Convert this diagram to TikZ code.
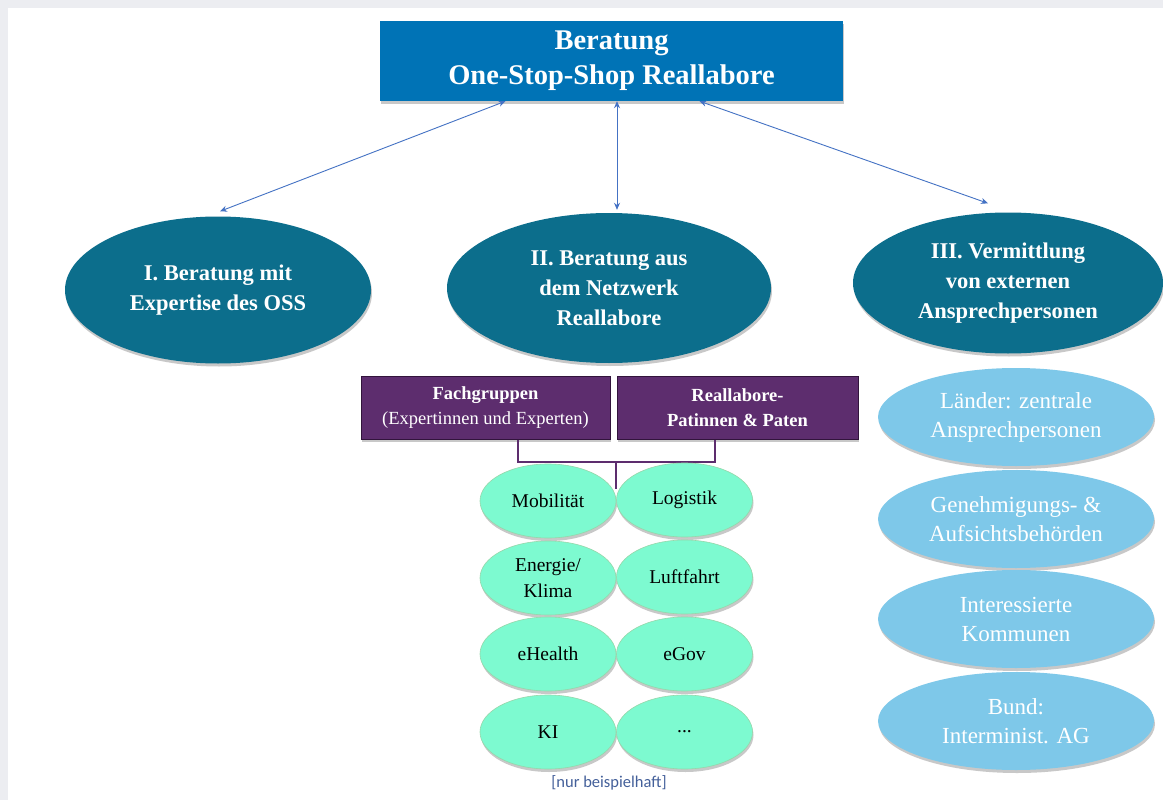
\documentclass[tikz,border=0pt]{standalone}
\usepackage{fontspec}
\setmainfont{Liberation Serif}
\setsansfont{Carlito}
\usetikzlibrary{shapes.geometric,arrows.meta,shadows}
\definecolor{randgrau}{RGB}{236,237,241}
\definecolor{ossblau}{RGB}{0,115,182}
\definecolor{petrol}{RGB}{12,110,140}
\definecolor{lila}{RGB}{93,45,110}
\definecolor{lilarand}{RGB}{50,20,60}
\definecolor{mint}{RGB}{125,250,208}
\definecolor{mintrand}{RGB}{150,215,170}
\definecolor{himmel}{RGB}{126,200,233}
\definecolor{pfeilblau}{RGB}{68,114,196}
\definecolor{hinweisblau}{RGB}{68,96,154}

\begin{document}
\begin{tikzpicture}[x=1pt,y=-1pt,
    schatten/.style={drop shadow={shadow xshift=1pt,shadow yshift=-3pt,opacity=0.3,fill=black!70}},
    kopf/.style={rectangle,fill=ossblau,text=white,minimum width=463,minimum height=80,
        align=center,font=\bfseries\fontsize{28.5}{35}\selectfont,schatten},
    saeule/.style={ellipse,fill=petrol,text=white,inner sep=0pt,align=center,
        font=\bfseries\fontsize{22.5}{30}\selectfont,schatten},
    gruppe/.style={rectangle,fill=lila,draw=lilarand,line width=1pt,text=white,minimum height=63,
        inner sep=0pt,align=center,font=\fontsize{18.5}{25}\selectfont,schatten},
    thema/.style={ellipse,fill=mint,draw=mintrand,line width=0.6pt,minimum width=136,minimum height=74,
        inner sep=0pt,align=center,font=\fontsize{19.5}{26}\selectfont,schatten},
    kontakt/.style={ellipse,fill=himmel,text=white,minimum width=276,minimum height=98,
        inner sep=0pt,align=center,font=\fontsize{23}{29}\selectfont,schatten},
    pfeil/.style={draw=pfeilblau,line width=0.9pt,
        {Stealth[length=7pt,width=6pt]}-{Stealth[length=7pt,width=6pt]}},
    klammer/.style={draw=lila,line width=2.5pt}
  ]
  % Rahmen
  \useasboundingbox (0,0) rectangle (1163,800);
  \fill[randgrau] (0,0) rectangle (1163,800);
  \fill[white] (8,8) rectangle (1163,800);

  % Kopf
  \node[kopf] (oss) at (611.5,61) {Beratung\\One-Stop-Shop Reallabore};

  % drei Saeulen
  \node[saeule,minimum width=306,minimum height=147] (expertise) at (218,290) {I. Beratung mit\\Expertise des OSS};
  \node[saeule,minimum width=324,minimum height=150] (netzwerk) at (609,288) {II. Beratung aus\\dem Netzwerk\\Reallabore};
  \node[saeule,minimum width=310,minimum height=141] (vermittlung) at (1008,283) {III. Vermittlung\\von externen\\Ansprechpersonen};

  \draw[pfeil] ([xshift=-106pt]oss.south) -- ([xshift=2pt,yshift=5pt]expertise.north);
  \draw[pfeil] ([xshift=5.5pt]oss.south) -- ([xshift=5.5pt,yshift=3pt]oss.south |- netzwerk.north);
  \draw[pfeil] ([xshift=88pt]oss.south) -- ([xshift=-20pt,yshift=9pt]vermittlung.north);

  % Netzwerk
  \node[gruppe,minimum width=249] (fach) at (485.5,407.5) {\textbf{Fachgruppen}\\(Expertinnen und Experten)};
  \node[gruppe,minimum width=241,font=\bfseries\fontsize{18.5}{25}\selectfont] (paten) at (737.5,407.5) {Reallabore-\\Patinnen \& Paten};

  \coordinate (mitte) at (616,462);
  \coordinate (fuss) at (616,489);
  \draw[klammer] ([xshift=32.5pt]fach.south) |- (mitte) -| ([xshift=-22.5pt]paten.south);
  \draw[klammer] (mitte) -- (fuss);

  \node[thema] (mobil) at (548,501) {Mobilität};
  \node[thema] (logistik) at (684.5,500) {Logistik};
  \node[thema] (energie) at (548,578) {Energie/\\Klima};
  \node[thema] (luft) at (684.5,577) {Luftfahrt};
  \node[thema] (health) at (548,654) {eHealth};
  \node[thema] (gov) at (684.5,654) {eGov};
  \node[thema] (ki) at (548,732) {KI};
  \node[thema] (weitere) at (684.5,732) {...};
  \node[font=\sffamily\fontsize{16.5}{18}\selectfont,text=hinweisblau] (hinweis) at (609,783) {[nur beispielhaft]};

  % Ansprechpersonen
  \node[kontakt] (laender) at (1016,417) {Länder: zentrale\\Ansprechpersonen};
  \node[kontakt] (behoerden) at (1016,519) {Genehmigungs- \&\\Aufsichtsbehörden};
  \node[kontakt] (kommunen) at (1016,619) {Interessierte\\Kommunen};
  \node[kontakt] (bund) at (1016,721) {Bund:\\Interminist. AG};
\end{tikzpicture}
\end{document}
